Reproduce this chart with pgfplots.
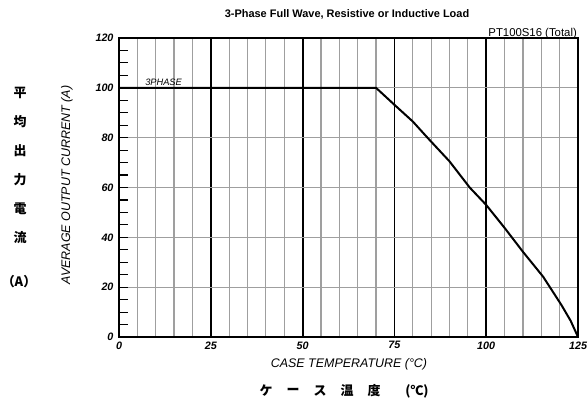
\documentclass[border=0pt]{standalone}
\usepackage{pgfplots}
\pgfplotsset{compat=1.18}
\usepackage{fontspec}
\setmainfont{Liberation Sans}
\newfontfamily\cjk{Noto Sans CJK JP}
\begin{document}
\begin{tikzpicture}[x=1bp,y=1bp]
\path[use as bounding box] (0,0) rectangle (588,402);
\begin{axis}[
  at={(119bp,65bp)}, anchor=south west,
  scale only axis, width=459bp, height=299bp,
  xmin=0, xmax=125, ymin=0, ymax=120,
  xtick={0,25,...,125}, ytick={0,20,...,120},
  minor xtick={5,10,...,120},
  minor ytick={5,10,...,115},
  xmajorgrids, xminorgrids, ymajorgrids,
  major x grid style={black, line width=1.8bp},
  minor x grid style={gray!75, line width=1.2bp},
  major y grid style={gray!75, line width=1.2bp},
  axis line style={black, line width=2.5bp},
  tick align=inside, xtick pos=bottom, ytick pos=left,
  major tick length=9bp, minor tick length=9bp,
  tick style={black, line width=1.1bp},
  x tick style={draw=none},
  /pgf/number format/assume math mode=true,
  ticklabel style={font=\bfseries\itshape\fontsize{10.8}{12}\selectfont},
  xticklabel style={yshift=-1bp},
  yticklabel style={xshift=-2bp},
  clip=false,
]
\addplot[black, line width=2bp] coordinates {
 (0,100) (70,100) (75,93.2) (80,86.5) (84,80) (90,70.5) (95.5,60) (100,53) (105,43.8) (110,34.2) (115.5,24.2) (120.5,12.8) (123,6.5) (125,0)
};
\node[anchor=base west, font=\itshape\fontsize{9.3}{10}\selectfont, inner sep=0] at (axis cs:7.1,101) {3PHASE};
\end{axis}
\node[font=\bfseries\fontsize{11}{13}\selectfont] at (347,388) {3-Phase Full Wave, Resistive or Inductive Load};
\node[anchor=base east, font=\fontsize{11.4}{13}\selectfont, inner sep=0] at (577,366) {PT100S16 (Total)};
\node[rotate=90, font=\itshape\fontsize{12.5}{14}\selectfont] at (67,217) {AVERAGE OUTPUT CURRENT (A)};
\node[font=\itshape\fontsize{12.5}{14}\selectfont] at (349,38) {CASE TEMPERATURE (\textdegree C)};
\foreach \c/\yy in {平/309, 均/280, 出/251, 力/222, 電/193, 流/164}
  \node[font=\cjk\bfseries\fontsize{13}{15}\selectfont] at (20,\yy) {\c};
\node[font=\cjk\bfseries\fontsize{13}{15}\selectfont] at (19,120) {（A）};
\foreach \c/\xx in {ケ/266, ー/293, ス/320, 温/347, 度/374}
  \node[font=\cjk\bfseries\fontsize{13}{15}\selectfont] at (\xx,11) {\c};
\node[font=\cjk\bfseries\fontsize{13}{15}\selectfont] at (417,11) {(℃)};
\end{tikzpicture}
\end{document}
